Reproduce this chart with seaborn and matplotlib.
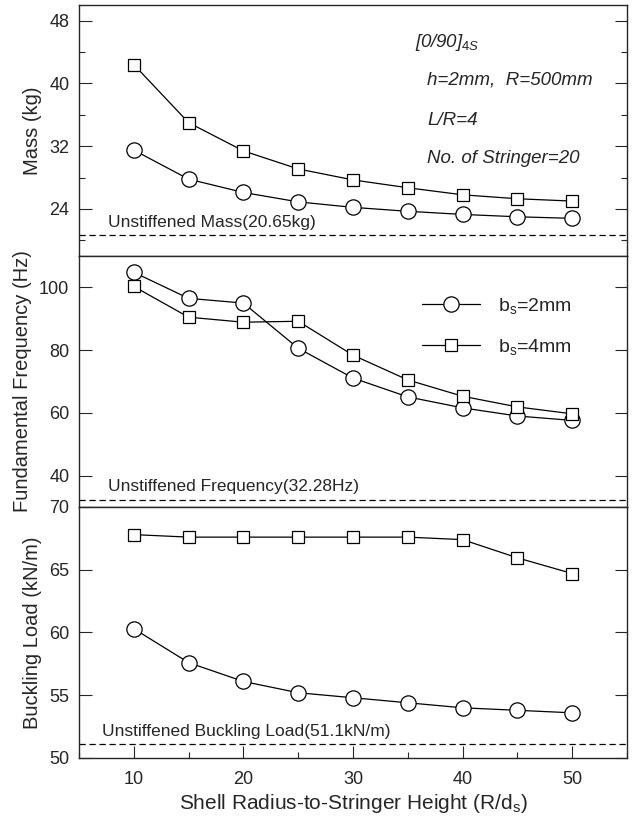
import numpy as np
import pandas as pd
import matplotlib
matplotlib.use("Agg")
import matplotlib.pyplot as plt
from matplotlib.ticker import MultipleLocator
import seaborn as sns

# ---- data ----
ratio = [10, 15, 20, 25, 30, 35, 40, 45, 50]
mass_2mm = [31.5, 27.8, 26.1, 24.9, 24.2, 23.7, 23.3, 23.0, 22.8]
mass_4mm = [42.4, 35.0, 31.4, 29.1, 27.7, 26.7, 25.8, 25.3, 25.0]
freq_2mm = [104.8, 96.5, 95.0, 80.6, 71.1, 65.1, 61.6, 59.0, 57.6]
freq_4mm = [100.3, 90.5, 88.9, 89.2, 78.4, 70.5, 65.3, 61.9, 59.7]
buck_2mm = [60.3, 57.6, 56.1, 55.2, 54.8, 54.4, 54.0, 53.8, 53.6]
buck_4mm = [67.8, 67.6, 67.6, 67.6, 67.6, 67.6, 67.4, 65.95, 64.7]
unstiff_mass = 20.65
unstiff_freq = 32.28
unstiff_buck = 51.1
series_labels = [r"b$_\mathregular{s}$=2mm", r"b$_\mathregular{s}$=4mm"]

sns.set_style("ticks")
plt.rcParams["font.family"] = ["Liberation Sans", "DejaVu Sans"]
plt.rcParams["mathtext.fontset"] = "custom"
plt.rcParams["mathtext.rm"] = "Liberation Sans"
plt.rcParams["mathtext.it"] = "Liberation Sans:italic"

fig, axes = plt.subplots(3, 1, figsize=(6.36, 8.16), dpi=100, sharex=True)
fig.subplots_adjust(left=79/636, right=627/636, top=1-5/816, bottom=1-758/816, hspace=0)

panels = [
    (mass_2mm, mass_4mm, unstiff_mass, (18, 50), [24, 32, 40, 48], 4, "Mass (kg)",
     "Unstiffened Mass(20.65kg)"),
    (freq_2mm, freq_4mm, unstiff_freq, (30, 110), [40, 60, 80, 100], None,
     "Fundamental Frequency (Hz)", "Unstiffened Frequency(32.28Hz)"),
    (buck_2mm, buck_4mm, unstiff_buck, (50, 70), [50, 55, 60, 65, 70], None,
     "Buckling Load (kN/m)", "Unstiffened Buckling Load(51.1kN/m)"),
]
text_x = [108, 108, 102]
label_x = [42, 32, 42]

for i, (ax, (s2, s4, base, ylim, yt, minor, ylabel, btxt)) in enumerate(zip(axes, panels)):
    df = pd.DataFrame({"x": ratio * 2, "y": s2 + s4,
                       "series": [series_labels[0]] * len(ratio) + [series_labels[1]] * len(ratio)})
    sns.lineplot(data=df[df.series == series_labels[0]], x="x", y="y", ax=ax, color="black",
                 lw=0.9, marker="o", markersize=11, markerfacecolor="white",
                 markeredgecolor="black", markeredgewidth=0.9, label=series_labels[0],
                 legend=False)
    sns.lineplot(data=df[df.series == series_labels[1]], x="x", y="y", ax=ax, color="black",
                 lw=0.9, marker="s", markersize=8, markerfacecolor="white",
                 markeredgecolor="black", markeredgewidth=0.9, label=series_labels[1],
                 legend=False)
    ax.axhline(base, color="black", lw=0.9, ls=(0, (5, 3)))
    ax.set_ylim(*ylim)
    ax.set_xlim(5, 55)
    ax.set_yticks(yt)
    if minor:
        ax.yaxis.set_minor_locator(MultipleLocator(minor))
    ax.set_ylabel(ylabel, fontsize=14.5)
    ax.yaxis.set_label_coords((label_x[i] - 79) / 548, 0.5)
    ax.set_xlabel("")
    ax.tick_params(axis="both", which="major", direction="in", length=9, width=0.8,
                   labelsize=13, right=True, top=False, pad=7)
    ax.tick_params(axis="y", which="minor", direction="in", length=4, width=0.8, right=True)
    for sp in ax.spines.values():
        sp.set_linewidth(1.0)
        sp.set_visible(True)
    ax.annotate(btxt, xy=((text_x[i] - 79) / 548, base), xycoords=ax.get_yaxis_transform(),
                xytext=(0, 4), textcoords="offset points",
                ha="left", va="bottom", fontsize=12.5)

# bottom axis
ax = axes[2]
ax.set_xticks([10, 20, 30, 40, 50])
ax.xaxis.set_minor_locator(MultipleLocator(5))
ax.tick_params(axis="x", which="major", pad=9)
ax.tick_params(axis="x", which="minor", direction="in", length=4, width=0.8)
ax.set_xlabel(r"Shell Radius-to-Stringer Height (R/d$_\mathregular{s}$)", fontsize=15,
              labelpad=3)
for a in axes[:2]:
    a.tick_params(axis="x", which="both", bottom=False, labelbottom=False)

# annotations in top panel
a0 = axes[0]
ann_fs = 13.5
a0.text((415 - 79) / 548, 0.852, r"[0/90]$_{\mathit{4S}}$", transform=a0.transAxes,
        fontsize=ann_fs, style="italic", ha="left", va="center")
a0.text((427 - 79) / 548, 0.70, "h=2mm,  R=500mm", transform=a0.transAxes,
        fontsize=ann_fs, style="italic", ha="left", va="center")
a0.text((427 - 79) / 548, 0.54, "L/R=4", transform=a0.transAxes, fontsize=ann_fs,
        style="italic", ha="left", va="center")
a0.text((427 - 79) / 548, 0.388, "No. of Stringer=20", transform=a0.transAxes,
        fontsize=ann_fs, style="italic", ha="left", va="center")

# legend in middle panel
h, l = axes[1].get_legend_handles_labels()
axes[1].legend(h, l, loc="upper left", bbox_to_anchor=((422 - 79) / 548, 0.84),
               frameon=False, fontsize=14, handlelength=3.0, handletextpad=0.9,
               labelspacing=1.05, borderaxespad=0, borderpad=0)

fig.savefig("out.png", dpi=100)
